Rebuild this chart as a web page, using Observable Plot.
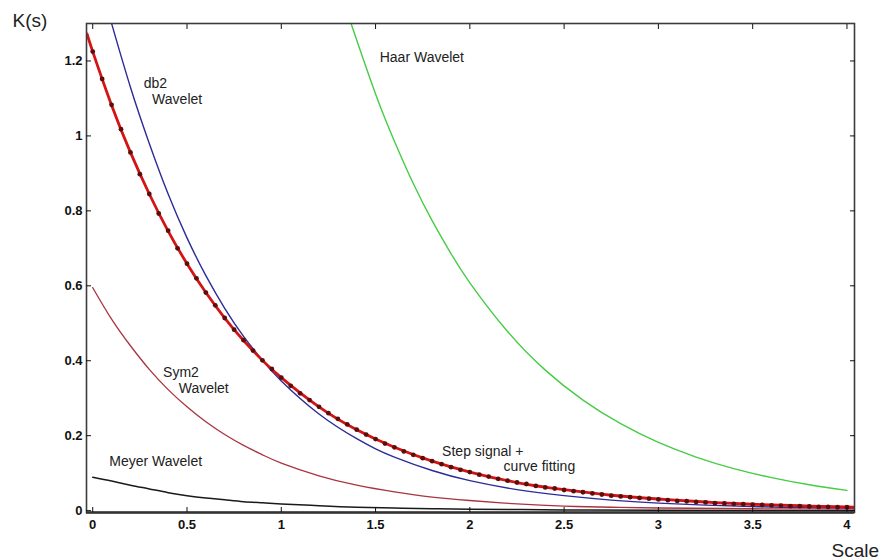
<!DOCTYPE html>
<html>
<head>
<meta charset="utf-8">
<script src="https://cdn.jsdelivr.net/npm/d3@7"></script>
<script src="https://cdn.jsdelivr.net/npm/@observablehq/plot@0.6"></script>
<style>
  body { margin: 0; background: #fff; }
  #chart svg { display: block; }
</style>
</head>
<body>
<div id="chart"></div>
<script>
// K(s) against scale for several wavelets and the step-signal estimate.

// Step signal samples, one every 0.05 of scale from 0 to 4
const stepSpacing = 0.05;
const stepK = [
  1.225, 1.152, 1.083, 1.018, 0.956, 0.898, 0.845, 0.793, 0.747, 0.700,
  0.659, 0.620, 0.582, 0.548, 0.514, 0.483, 0.455, 0.427, 0.401, 0.378,
  0.355, 0.333, 0.313, 0.295, 0.277, 0.260, 0.245, 0.230, 0.216, 0.203,
  0.191, 0.179, 0.169, 0.158, 0.149, 0.140, 0.132, 0.124, 0.116, 0.109,
  0.103, 0.096, 0.091, 0.085, 0.080, 0.075, 0.071, 0.066, 0.062, 0.059,
  0.055, 0.052, 0.049, 0.046, 0.043, 0.040, 0.038, 0.036, 0.034, 0.032,
  0.030, 0.028, 0.026, 0.025, 0.023, 0.022, 0.020, 0.019, 0.018, 0.017,
  0.016, 0.015, 0.014, 0.013, 0.012, 0.012, 0.011, 0.010, 0.010, 0.009,
  0.009
];

// Fitted curve through the step signal
const fitScale = [-0.03, 0, 0.1, 0.2, 0.3, 0.4, 0.5, 0.6, 0.7, 0.8, 0.9, 1.0, 1.2, 1.4, 1.6, 1.8, 2.0, 2.25, 2.5, 2.75, 3.0, 3.25, 3.5, 3.75, 4.0, 4.04];
const fitK     = [1.272, 1.225, 1.082, 0.956, 0.845, 0.746, 0.659, 0.582, 0.514, 0.454, 0.401, 0.355, 0.277, 0.216, 0.169, 0.132, 0.103, 0.075, 0.056, 0.041, 0.031, 0.023, 0.017, 0.013, 0.010, 0.0095];

// db2 wavelet
const db2Scale = [0.1, 0.2, 0.3, 0.4, 0.5, 0.6, 0.7, 0.8, 0.9, 1.0, 1.2, 1.4, 1.5, 1.6, 1.8, 2.0, 2.25, 2.5, 2.75, 3.0, 3.5, 4.0, 4.04];
const db2K     = [1.30, 1.13, 0.98, 0.845, 0.728, 0.627, 0.540, 0.465, 0.401, 0.346, 0.258, 0.192, 0.165, 0.143, 0.107, 0.080, 0.056, 0.040, 0.028, 0.020, 0.011, 0.007, 0.007];

// Haar wavelet
const haarScale = [1.37, 1.5, 1.6, 1.7, 1.8, 1.9, 2.0, 2.2, 2.4, 2.6, 2.8, 3.0, 3.2, 3.4, 3.6, 3.8, 4.0];
const haarK     = [1.30, 1.112, 0.986, 0.873, 0.774, 0.686, 0.608, 0.478, 0.375, 0.295, 0.232, 0.182, 0.143, 0.112, 0.088, 0.069, 0.054];

// Sym2 wavelet
const sym2Scale = [0, 0.1, 0.2, 0.3, 0.4, 0.5, 0.6, 0.7, 0.8, 0.9, 1.0, 1.2, 1.4, 1.6, 1.8, 2.0, 2.25, 2.5, 2.75, 3.0, 3.5, 4.0, 4.04];
const sym2K     = [0.595, 0.511, 0.44, 0.377, 0.323, 0.277, 0.237, 0.203, 0.174, 0.149, 0.127, 0.093, 0.068, 0.050, 0.036, 0.027, 0.018, 0.012, 0.009, 0.007, 0.005, 0.004, 0.004];

// Meyer wavelet
const meyerScale = [0, 0.1, 0.2, 0.3, 0.4, 0.5, 0.6, 0.7, 0.8, 0.9, 1.0, 1.2, 1.4, 1.6, 1.8, 2.0, 2.5, 3.0, 4.0, 4.04];
const meyerK     = [0.089, 0.079, 0.068, 0.058, 0.048, 0.040, 0.034, 0.029, 0.024, 0.021, 0.018, 0.013, 0.009, 0.007, 0.005, 0.004, 0.002, 0.001, 0.0, 0.0];

// Axis ticks
const xTicks = [0, 0.5, 1, 1.5, 2, 2.5, 3, 3.5, 4];
const yTicks = [0, 0.2, 0.4, 0.6, 0.8, 1, 1.2];

// Curve labels, anchored at the left end of each text baseline
const curveLabels = [
  {text: "db2",           s: 0.270, k: 1.127},
  {text: "Wavelet",       s: 0.315, k: 1.085},
  {text: "Haar Wavelet",  s: 1.522, k: 1.197},
  {text: "Sym2",          s: 0.373, k: 0.357},
  {text: "Wavelet",       s: 0.456, k: 0.315},
  {text: "Meyer Wavelet", s: 0.088, k: 0.120},
  {text: "Step signal +", s: 1.853, k: 0.147},
  {text: "curve fitting", s: 2.179, k: 0.105}
];

const pairs = (xs, ys) => xs.map((s, i) => ({s, k: ys[i]}));
const stepData  = stepK.map((k, i) => ({s: i * stepSpacing, k}));
const fitData   = pairs(fitScale, fitK);
const db2Data   = pairs(db2Scale, db2K);
const haarData  = pairs(haarScale, haarK);
const sym2Data  = pairs(sym2Scale, sym2K);
const meyerData = pairs(meyerScale, meyerK);

const font = "'Liberation Sans', Arial, Helvetica, sans-serif";
const fmt = d => String(d);

const chart = Plot.plot({
  width: 883,
  height: 560,
  marginLeft: 86,
  marginRight: 29,
  marginTop: 23,
  marginBottom: 48,
  style: {fontFamily: font, background: "#fff", color: "#111", overflow: "visible"},
  x: {domain: [-0.033, 4.04], label: null},
  y: {domain: [-0.005, 1.3], label: null},
  marks: [
    Plot.line(meyerData, {x: "s", y: "k", stroke: "#1a1a1a", strokeWidth: 1.5, curve: "natural", clip: true}),
    Plot.line(sym2Data, {x: "s", y: "k", stroke: "#a8343f", strokeWidth: 1.3, curve: "natural", clip: true}),
    Plot.line(haarData, {x: "s", y: "k", stroke: "#46cc46", strokeWidth: 1.4, curve: "natural", clip: true}),
    Plot.line(db2Data, {x: "s", y: "k", stroke: "#2c2c98", strokeWidth: 1.4, curve: "natural", clip: true}),
    Plot.line(fitData, {x: "s", y: "k", stroke: "#d41414", strokeWidth: 2.8, curve: "natural", clip: true}),
    Plot.dot(stepData, {x: "s", y: "k", r: 2.4, fill: "#5a0e0e", stroke: "none"}),

    Plot.frame({stroke: "#3c3c3c", strokeWidth: 1.6}),
    Plot.ruleY([-0.005], {stroke: "#333", strokeWidth: 2.4}),

    Plot.axisX(xTicks, {anchor: "bottom", tickSize: -5, tickPadding: 12, tickFormat: fmt, fontSize: 13, fontWeight: "bold", fill: "#111", label: null}),
    Plot.axisX(xTicks, {anchor: "top", tickSize: -5, tickFormat: () => "", label: null}),
    Plot.axisY(yTicks, {anchor: "left", tickSize: -5, tickPadding: 9, tickFormat: fmt, fontSize: 13, fontWeight: "bold", fill: "#111", label: null}),
    Plot.axisY(yTicks, {anchor: "right", tickSize: -5, tickFormat: () => "", label: null}),

    Plot.text(curveLabels, {x: "s", y: "k", text: "text", textAnchor: "start", lineAnchor: "bottom", fontSize: 14, fill: "#222"}),

    Plot.text(["K(s)"], {text: d => d, frameAnchor: "top-left", textAnchor: "start", lineAnchor: "bottom", dx: -74, dy: 3, fontSize: 19, fill: "#222"}),
    Plot.text(["Scale"], {text: d => d, frameAnchor: "bottom-right", textAnchor: "start", lineAnchor: "bottom", dx: -23, dy: 44, fontSize: 19, fill: "#222"})
  ]
});

document.getElementById("chart").appendChild(chart);
</script>
</body>
</html>
